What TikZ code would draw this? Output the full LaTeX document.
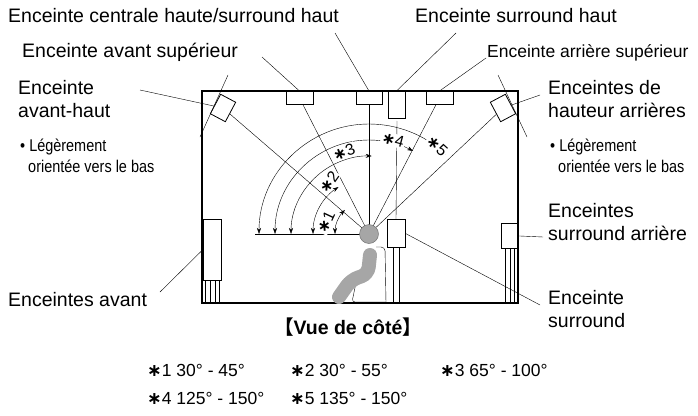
\documentclass[tikz,border=0pt]{standalone}
\usepackage{fontspec}
\setmainfont{Liberation Sans}
\newfontfamily\symfont{DejaVu Sans}
\newfontfamily\narrowfont{Liberation Sans}[FakeStretch=0.85]
\newfontfamily\cjkfont{Noto Sans CJK JP}
\usetikzlibrary{positioning,arrows.meta,calc}
\newcommand{\astk}{{\symfont\bfseries ∗}}

\tikzset{
  lbl/.style={font=\fontsize{19.5}{23.5}\selectfont, align=left, inner sep=0pt},
  foot/.style={font=\fontsize{17.5}{20}\selectfont, inner sep=0pt},
  note/.style={font=\narrowfont\fontsize{17}{21}\selectfont, align=left, inner sep=0pt},
  spk/.style={draw, thick, fill=white, minimum width=#1, inner sep=0pt},
  lead/.style={thin},
  angarc/.style={thin, {Stealth[length=6pt,width=4pt]}-{Stealth[length=6pt,width=4pt]}},
  arclbl/.style={font=\fontsize{16}{16}\selectfont, inner sep=1pt, fill=white}
}

\begin{document}
\begin{tikzpicture}[x=1pt,y=-1pt]
\useasboundingbox (0,0) rectangle (698,415);

% listening point
\coordinate (C) at (369,234);

% room
\draw[line width=1.8pt] (202,91) rectangle (518,303);

% speakers
\node[spk=17pt, minimum height=22pt, rotate=-28] (fh) at (223,108) {};
\node[spk=17pt, minimum height=22pt, rotate=28] (rh) at (503,108) {};
\node[spk=27pt, minimum height=13pt, anchor=north] (t1) at (299.5,91) {};
\node[spk=26pt, minimum height=13pt, anchor=north] (t2) at (369,91) {};
\node[spk=17pt, minimum height=27pt, anchor=north] (t3) at (396.5,91) {};
\node[spk=27pt, minimum height=13pt, anchor=north] (t4) at (439.5,91) {};
\node[spk=18pt, minimum height=61pt, anchor=north] (fr) at (212,219) {};
\node[spk=18pt, minimum height=28pt, anchor=north] (sr) at (396,219) {};
\node[spk=16pt, minimum height=25pt, anchor=north] (sb) at (509,223) {};

% stands
\foreach \x in {205,210,215,219} \draw[thin] (\x,280) -- (\x,303);
\foreach \x in {393,399} \draw[thin] (\x,247) -- (\x,303);
\foreach \x in {505,510,514} \draw[thin] (\x,248) -- (\x,303);

% tilt lines
\draw[thin] (228,75) -- (200,137);
\draw[thin] (498,75) -- (527,137);

% rays
\draw[thin] (255,234) -- (C);
\foreach \s in {fh,rh,t1,t4} \draw[thin] (\s) -- (C);
\draw[thin] (t2.south) -- (C);
\draw[thin] (397,121) -- (sr.north);

% angle arcs
\draw[angarc] ([shift={(-34,0)}]C) arc[start angle=-180, end angle=-135, radius=34];
\draw[angarc] ([shift={(-56,0)}]C) arc[start angle=-180, end angle=-123, radius=56];
\draw[angarc] ([shift={(-78,0)}]C) arc[start angle=-180, end angle=-88, radius=78];
\draw[angarc] ([shift={(-94,0)}]C) arc[start angle=-180, end angle=-62, radius=94];
\draw[angarc] ([shift={(-110,0)}]C) arc[start angle=-180, end angle=-46, radius=110];
\node[arclbl, rotate=65] (a1) at (326,222) {\astk 1};
\node[arclbl, rotate=55] (a2) at (329,182) {\astk 2};
\node[arclbl, rotate=22] (a3) at (344,152) {\astk 3};
\node[arclbl, rotate=-15] (a4) at (393,140) {\astk 4};
\node[arclbl, rotate=-42] (a5) at (437,146) {\astk 5};

% listener and chair
\draw[thin, rounded corners=4pt] (376,247) -- (385,247) -- (386,303);
\draw[thin, rounded corners=3pt] (357,278) -- (352,302) -- (386,302);
\draw[line width=14pt, gray!70, line cap=round, rounded corners=7pt]
  (370,255) -- (368,274) -- (351,280) -- (339,297);
\fill[gray!70, draw=black!60, thin] (C) circle (9.5);

% labels
\node[lbl, anchor=west] (lct) at (8,16) {Enceinte centrale haute/surround haut};
\node[lbl, anchor=west] (lsh) at (415,16) {Enceinte surround haut};
\node[lbl, anchor=west] (las) at (22,52) {Enceinte avant supérieur};
\node[lbl, anchor=west, font=\fontsize{17.5}{21}\selectfont] (lar) at (487,53) {Enceinte arrière supérieur};
\node[lbl, anchor=north west] (lah) at (18,80) {Enceinte\\avant-haut};
\node[note, anchor=north west] (nl) at (20,139) {• Légèrement\\\ \ orientée vers le bas};
\node[lbl, anchor=north west] (lrh) at (548,80) {Enceintes de\\hauteur arrières};
\node[note, anchor=north west] (nr) at (550,139) {• Légèrement\\\ \ orientée vers le bas};
\node[lbl, anchor=north west] (lsb) at (548,203) {Enceintes\\surround arrière};
\node[lbl, anchor=west] (lfr) at (8,300) {Enceintes avant};
\node[lbl, anchor=north west] (lsr) at (548,290) {Enceinte\\surround};
\node[lbl, anchor=center, font=\fontsize{19.5}{23}\selectfont\bfseries] (vue) at (348,327)
  {{\cjkfont 【}Vue de côté{\cjkfont 】}};

% leaders
\draw[lead] (335,33) -- (t2.north);
\draw[lead] (456,33) -- (t3.north);
\draw[lead] (262,57) -- (t1.north);
\draw[lead] (486,58) -- (t4.north);
\draw[lead] (140,90) -- (fh);
\draw[lead] (540,95) -- (rh);
\draw[lead] (543,237) -- (sb.east);
\draw[lead] (160,292) -- (fr.west);
\draw[lead] (sr.east) -- (540,305);

% footnotes
\node[foot, anchor=west] (f1) at (147,370) {\astk 1 30° - 45°};
\node[foot, anchor=west] (f2) at (290,370) {\astk 2 30° - 55°};
\node[foot, anchor=west] (f3) at (440,370) {\astk 3 65° - 100°};
\node[foot, anchor=west] (f4) at (147,398) {\astk 4 125° - 150°};
\node[foot, anchor=west] (f5) at (290,398) {\astk 5 135° - 150°};
\end{tikzpicture}
\end{document}
